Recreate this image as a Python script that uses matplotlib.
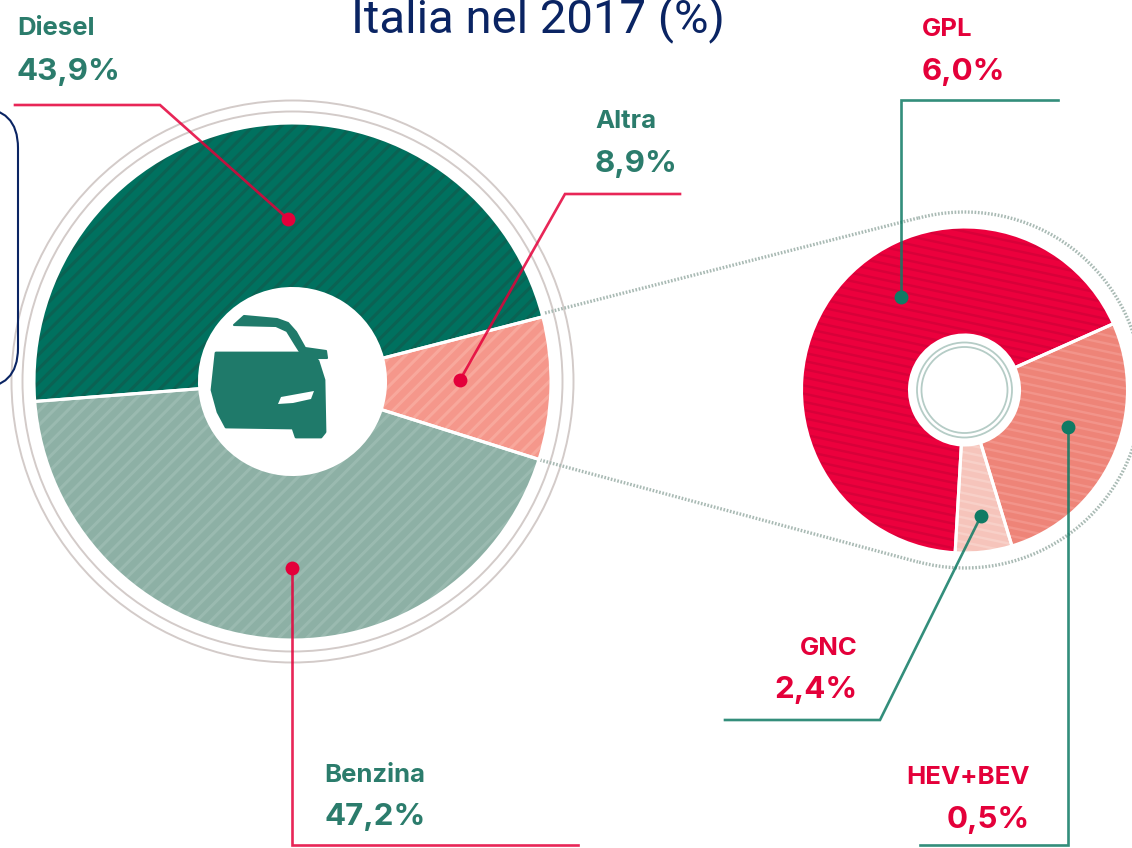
import numpy as np
import matplotlib
matplotlib.use('Agg')
import matplotlib.pyplot as plt
from matplotlib.collections import LineCollection
from matplotlib.patches import Arc, Circle, FancyBboxPatch, Polygon

# slices are in the order they are drawn. In the source picture the
# 47,2 slice sits under the Diesel label and 43,9 under Benzina
main_values = [47.2, 43.9, 8.9]
main_colors = ['#00715F', '#8DB0A5', '#F5978B']
main_stripes = ['#0B6253', '#9ABAB0', '#F8A89C']

sub_values = [6.0, 0.5, 2.4]
sub_colors = ['#EC003D', '#F6C4BB', '#EE8478']
sub_stripes = ['#D80039', '#F8D0C8', '#F2948A']

title = 'Italia nel 2017 (%)'
GREEN = '#2B7C6C'
LINE_GREEN = '#0F7A64'
RED = '#E4003A'
NAVY = '#0A2463'

plt.rcParams['font.family'] = ['Inter', 'DejaVu Sans']
fig = plt.figure(figsize=(11.32, 8.48), dpi=100)
ax = fig.add_axes([0, 0, 1, 1])


def stripes(wedge, color, angle, gap, cx, cy, r):
    # parallel lines cut to the shape of the slice
    a = np.radians(angle)
    d = np.array([np.cos(a), -np.sin(a)])
    n = np.array([np.sin(a), np.cos(a)])
    segs = []
    for off in np.arange(-r, r, gap):
        p = np.array([cx, cy]) + n * off
        segs.append([p - d * r, p + d * r])
    lc = LineCollection(segs, colors=color, linewidths=gap * 0.22, zorder=1.5)
    ax.add_collection(lc)
    lc.set_clip_path(wedge)


def donut(values, colors, stripe_colors, cx, cy, r, hole, start, angle, gap):
    # y axis points down, so counterclock=False reads anticlockwise on screen
    wedges, _ = ax.pie(values, colors=colors, center=(cx, cy), radius=r,
                       startangle=-start, counterclock=False,
                       wedgeprops=dict(width=r - hole, linewidth=0))
    for w, c in zip(wedges, stripe_colors):
        stripes(w, c, angle, gap, cx, cy, r)
    # white separators on top of the stripes
    top, _ = ax.pie(values, colors=colors, center=(cx, cy), radius=r,
                    startangle=-start, counterclock=False,
                    wedgeprops=dict(width=r - hole, linewidth=2.2, edgecolor='white'))
    for w in top:
        w.set_facecolor('none')
        w.set_zorder(2)


donut(main_values, main_colors, main_stripes, 292.5, 381.5, 258.5, 93, 14.5, 45, 10)
donut(sub_values, sub_colors, sub_stripes, 964.5, 390, 163, 55, 24, -12, 8)

# rings round the big pie and inside the small one
for r in (270, 281):
    ax.add_patch(Circle((292.5, 381.5), r, fill=False, ec='#D3CBC9', lw=1.4, zorder=1))
for r in (43, 47.5):
    ax.add_patch(Circle((964.5, 390), r, fill=False, ec='#B5CCC6', lw=1.3, zorder=1))

# dotted zoom lines
DOT = '#A9BAB4'
dot = dict(color=DOT, lw=2.4, linestyle=(0, (0.5, 0.5)), zorder=1)
ax.plot([545, 918], [313, 218], **dot)
ax.plot([540, 918], [460, 562], **dot)
ax.add_patch(Arc((964.5, 390), 356, 356, theta1=-105, theta2=105, ec=DOT,
                 lw=2.4, linestyle=(0, (0.5, 0.5)), zorder=1))

# car icon
CAR = '#1F7A6A'
roof = [(234, 325), (244, 316), (277, 319), (288, 323), (296, 332), (305, 348),
        (326, 351), (327, 358), (312, 358), (302, 355), (295, 344), (287, 331),
        (276, 326)]
body = [(216, 353), (310, 353), (318, 361), (324, 380), (325, 432), (321, 437),
        (296, 437), (293, 428), (226, 427), (218, 412), (212, 390)]
lamp = [(278, 404), (281, 397), (314, 391), (311, 399), (293, 403)]
ax.add_patch(Polygon(roof, closed=True, fc=CAR, ec=CAR, lw=1.5, joinstyle='round', zorder=3))
ax.add_patch(Polygon(body, closed=True, fc=CAR, ec=CAR, lw=2, joinstyle='round', zorder=3))
ax.add_patch(Polygon(lamp, closed=True, fc='white', ec='none', zorder=3.1))

# leader lines, the last point carries the dot
leaders = [
    ([15, 160, 288], [105, 105, 219], RED),
    ([680, 565, 460], [194, 194, 380], RED),
    ([578, 292, 292], [845, 845, 568], RED),
    ([1058, 901, 901], [100, 100, 297], LINE_GREEN),
    ([725, 880, 981], [720, 720, 516], LINE_GREEN),
    ([920, 1068, 1068], [845, 845, 427], LINE_GREEN),
]
for xs, ys, c in leaders:
    ax.plot(xs, ys, color=c, lw=1.9, zorder=4, alpha=0.85, solid_joinstyle='miter')
    ax.plot(xs[-1], ys[-1], 'o', color=c, ms=10, mew=0, zorder=5)

# labels
labels = [
    ('Diesel', '43,9%', 17, 35, 80, 'left', GREEN),
    ('Altra', '8,9%', 595, 128, 172, 'left', GREEN),
    ('Benzina', '47,2%', 324, 782, 825, 'left', GREEN),
    ('GPL', '6,0%', 922, 36, 80, 'left', RED),
    ('GNC', '2,4%', 858, 655, 698, 'right', RED),
    ('HEV+BEV', '0,5%', 1030, 784, 828, 'right', RED),
]
for name, pct, x, y1, y2, ha, c in labels:
    ax.text(x, y1, name, color=c, fontsize=18.5, fontweight='bold', ha=ha, va='baseline', zorder=6)
    ax.text(x, y2, pct, color=c, fontsize=22.5, fontweight='bold', ha=ha, va='baseline', zorder=6)

ax.text(538, 32, title, color=NAVY, fontsize=34, family='Roboto', ha='center',
        va='baseline', zorder=6)

# rounded box cut by the left edge
ax.add_patch(FancyBboxPatch((-80, 148), 58, 200, boxstyle='round,pad=40,rounding_size=40',
                            fc='none', ec=NAVY, lw=1.5, zorder=6))

ax.set_xlim(0, 1132)
ax.set_ylim(848, 0)
ax.set_aspect('equal')
ax.axis('off')
fig.savefig('out.png', dpi=100, facecolor='white')
